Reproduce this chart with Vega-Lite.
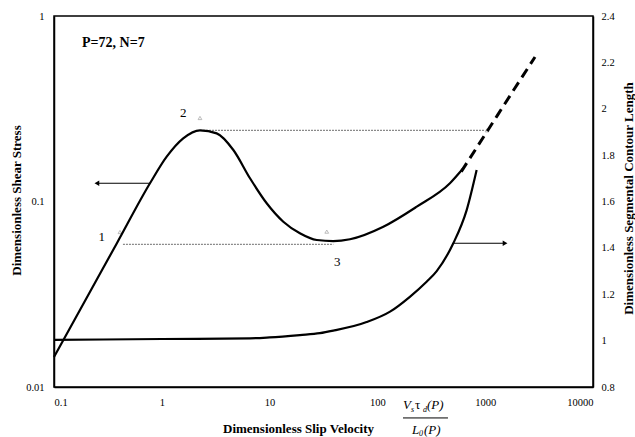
{
  "$schema": "https://vega.github.io/schema/vega-lite/v6.json",
  "width": 539,
  "height": 371,
  "autosize": {"type": "none"},
  "padding": {"left": 54, "top": 16, "right": 42, "bottom": 50},
  "background": "white",
  "config": {
    "font": "Liberation Serif",
    "view": {"stroke": "black", "strokeWidth": 1.5},
    "axis": {
      "grid": false,
      "ticks": false,
      "tickSize": 0,
      "domainColor": "black",
      "domainWidth": 1.5,
      "labelFont": "Liberation Serif",
      "labelFontSize": 10.5,
      "labelColor": "black",
      "titleFont": "Liberation Serif",
      "titleFontSize": 13,
      "titleFontWeight": "bold",
      "titleColor": "black"
    }
  },
  "datasets": {
    "shear": [
      {"x": 0.1, "y": 0.01451},
      {"x": 0.2, "y": 0.0301},
      {"x": 0.382, "y": 0.0594},
      {"x": 0.777, "y": 0.1254},
      {"x": 1.11, "y": 0.1744},
      {"x": 1.58, "y": 0.219},
      {"x": 2.26, "y": 0.242},
      {"x": 3.23, "y": 0.233},
      {"x": 4.61, "y": 0.1895},
      {"x": 6.58, "y": 0.1334},
      {"x": 9.4, "y": 0.0978},
      {"x": 13.4, "y": 0.0778},
      {"x": 19.1, "y": 0.0674},
      {"x": 27.4, "y": 0.062},
      {"x": 39.0, "y": 0.0612},
      {"x": 55.7, "y": 0.0626},
      {"x": 113.5, "y": 0.0731},
      {"x": 232, "y": 0.0938},
      {"x": 471, "y": 0.1254},
      {"x": 626, "y": 0.151}
    ],
    "shear_dashed": [
      {"x": 600, "y": 0.145},
      {"x": 1062, "y": 0.243},
      {"x": 1888, "y": 0.409},
      {"x": 2897, "y": 0.601}
    ],
    "contour": [
      {"x": 0.1, "y": 1.003},
      {"x": 1.0, "y": 1.007},
      {"x": 6.58, "y": 1.01},
      {"x": 10, "y": 1.014},
      {"x": 19.1, "y": 1.024},
      {"x": 29.3, "y": 1.032},
      {"x": 39, "y": 1.043},
      {"x": 79.4, "y": 1.08},
      {"x": 131, "y": 1.125},
      {"x": 200, "y": 1.189},
      {"x": 286, "y": 1.254},
      {"x": 355, "y": 1.3},
      {"x": 506, "y": 1.42},
      {"x": 673, "y": 1.563},
      {"x": 833, "y": 1.736}
    ],
    "dotted": [
      {"line": "upper", "x": 2.26, "y": 0.242},
      {"line": "upper", "x": 1000, "y": 0.242},
      {"line": "lower", "x": 0.436, "y": 0.0587},
      {"line": "lower", "x": 39, "y": 0.0587}
    ],
    "dotted_marks": [
      {"x": 0.409, "y": 0.0685},
      {"x": 2.26, "y": 0.282},
      {"x": 33.9, "y": 0.0688},
      {"x": 1040, "y": 0.242}
    ],
    "arrow_left": [
      {"x": 0.25, "y": 0.1254},
      {"x": 0.777, "y": 0.1254}
    ],
    "arrow_left_head": [{"x": 0.25, "y": 0.1254}],
    "arrow_right": [
      {"x": 506, "y": 1.42},
      {"x": 1528, "y": 1.42}
    ],
    "arrow_right_head": [{"x": 1528, "y": 1.42}],
    "point_labels": [
      {"x": 0.277, "y": 0.0646, "text": "1"},
      {"x": 1.58, "y": 0.299, "text": "2"},
      {"x": 42.5, "y": 0.0474, "text": "3"}
    ],
    "case_label": [{"x": 0.182, "y": 0.715, "text": "P=72, N=7"}],
    "formula_main": [
      {"x": 172.8, "y": 0.00795, "text": "V"},
      {"x": 288.4, "y": 0.00795, "text": "(P)"},
      {"x": 209.4, "y": 0.0059, "text": "L"},
      {"x": 270.7, "y": 0.0059, "text": "(P)"}
    ],
    "formula_tau": [{"x": 223.3, "y": 0.00795, "text": "τ"}],
    "formula_sub": [
      {"x": 205, "y": 0.0075, "text": "s"},
      {"x": 264.9, "y": 0.0075, "text": "d"},
      {"x": 243.2, "y": 0.00558, "text": "0"}
    ],
    "formula_bar": [{"x": 172.8, "x2": 451.6, "y": 0.00681}]
  },
  "layer": [
    {
      "encoding": {
        "x": {
          "field": "x",
          "type": "quantitative",
          "scale": {"type": "log", "domain": [0.1, 10000], "nice": false},
          "axis": {
            "values": [0.1, 1, 10, 100, 1000, 10000],
            "format": "~g",
            "labelPadding": 10,
            "title": "Dimensionless Slip Velocity",
            "titleX": 244,
            "titleY": 41,
            "titleBaseline": "middle"
          }
        },
        "y": {
          "field": "y",
          "type": "quantitative",
          "scale": {"type": "log", "domain": [0.01, 1], "nice": false},
          "axis": {
            "values": [0.01, 0.1, 1],
            "format": "~g",
            "labelPadding": 10,
            "title": "Dimensionless Shear Stress",
            "titleAngle": 270,
            "titleX": -38,
            "titleY": 184,
            "titleAlign": "center",
            "titleBaseline": "middle"
          }
        }
      },
      "layer": [
        {
          "data": {"name": "dotted"},
          "mark": {"type": "line", "color": "#8a8a8a", "strokeWidth": 1.3, "strokeDash": [2, 1]},
          "encoding": {"detail": {"field": "line"}}
        },
        {
          "data": {"name": "dotted_marks"},
          "mark": {"type": "point", "shape": "triangle-up", "color": "#8a8a8a", "size": 14, "strokeWidth": 0.8}
        },
        {
          "data": {"name": "shear"},
          "mark": {"type": "line", "color": "black", "strokeWidth": 2.2, "interpolate": "monotone"}
        },
        {
          "data": {"name": "shear_dashed"},
          "mark": {"type": "line", "color": "black", "strokeWidth": 3, "strokeDash": [10, 6], "interpolate": "monotone"}
        },
        {
          "data": {"name": "arrow_left"},
          "mark": {"type": "line", "color": "black", "strokeWidth": 1.2}
        },
        {
          "data": {"name": "arrow_left_head"},
          "mark": {"type": "point", "shape": "triangle-left", "filled": true, "color": "black", "size": 30, "opacity": 1}
        },
        {
          "data": {"name": "point_labels"},
          "mark": {"type": "text", "fontSize": 13, "font": "Liberation Serif", "color": "black"},
          "encoding": {"text": {"field": "text"}}
        },
        {
          "data": {"name": "case_label"},
          "mark": {"type": "text", "fontSize": 14, "fontWeight": "bold", "font": "Liberation Serif", "align": "left", "baseline": "middle", "color": "black"},
          "encoding": {"text": {"field": "text"}}
        },
        {
          "data": {"name": "formula_main"},
          "mark": {"type": "text", "fontSize": 13, "fontStyle": "italic", "font": "Liberation Serif", "align": "left", "baseline": "middle", "color": "black"},
          "encoding": {"text": {"field": "text"}}
        },
        {
          "data": {"name": "formula_tau"},
          "mark": {"type": "text", "fontSize": 13, "font": "Liberation Serif", "align": "left", "baseline": "middle", "color": "black"},
          "encoding": {"text": {"field": "text"}}
        },
        {
          "data": {"name": "formula_sub"},
          "mark": {"type": "text", "fontSize": 8, "fontStyle": "italic", "font": "Liberation Serif", "align": "left", "baseline": "middle", "color": "black"},
          "encoding": {"text": {"field": "text"}}
        },
        {
          "data": {"name": "formula_bar"},
          "mark": {"type": "rule", "color": "black", "strokeWidth": 1},
          "encoding": {"x2": {"field": "x2"}}
        }
      ]
    },
    {
      "encoding": {
        "x": {
          "field": "x",
          "type": "quantitative",
          "scale": {"type": "log", "domain": [0.1, 10000], "nice": false}
        },
        "y": {
          "field": "y",
          "type": "quantitative",
          "scale": {"type": "linear", "domain": [0.8, 2.4], "nice": false, "zero": false},
          "axis": {
            "orient": "right",
            "values": [0.8, 1, 1.2, 1.4, 1.6, 1.8, 2, 2.2, 2.4],
            "format": "~g",
            "labelPadding": 8,
            "title": "Dimensionless Segmental Contour Length",
            "titleAngle": 270,
            "titleX": 35,
            "titleY": 182,
            "titleAlign": "center",
            "titleBaseline": "middle"
          }
        }
      },
      "layer": [
        {
          "data": {"name": "contour"},
          "mark": {"type": "line", "color": "black", "strokeWidth": 2.2, "interpolate": "monotone"}
        },
        {
          "data": {"name": "arrow_right"},
          "mark": {"type": "line", "color": "black", "strokeWidth": 1.2}
        },
        {
          "data": {"name": "arrow_right_head"},
          "mark": {"type": "point", "shape": "triangle-right", "filled": true, "color": "black", "size": 30, "opacity": 1}
        }
      ]
    }
  ],
  "resolve": {"scale": {"y": "independent"}}
}
